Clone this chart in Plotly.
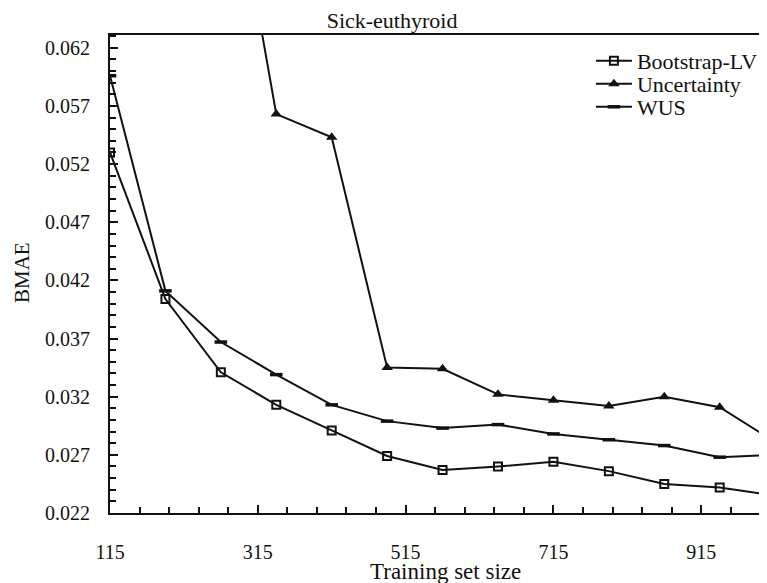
import plotly.graph_objects as go

train_size = [115, 190, 265, 340, 415, 490, 565, 640, 715, 790, 865, 940, 1015]
bootstrap_lv = [0.0530, 0.0404, 0.0341, 0.0313, 0.0291, 0.0269, 0.0257, 0.0260, 0.0264, 0.0256, 0.0245, 0.0242, 0.0235]
uncertainty = [0.0980, 0.0900, 0.0832, 0.0563, 0.0543, 0.0345, 0.0344, 0.0322, 0.0317, 0.0312, 0.0320, 0.0311, 0.0281]
wus = [0.0596, 0.0411, 0.0367, 0.0339, 0.0313, 0.0299, 0.0293, 0.0296, 0.0288, 0.0283, 0.0278, 0.0268, 0.0270]

y_ticks = [0.022, 0.027, 0.032, 0.037, 0.042, 0.047, 0.052, 0.057, 0.062]
x_ticks = [115, 315, 515, 715, 915]

FONT = "Liberation Serif"
BLACK = "#111111"

fig = go.Figure()
fig.add_trace(go.Scatter(
    x=train_size, y=bootstrap_lv, name="Bootstrap-LV", mode="lines+markers",
    line=dict(color=BLACK, width=2), legend="legend",
    marker=dict(symbol="square-open", size=8, color=BLACK, line=dict(width=2, color=BLACK)),
))
fig.add_trace(go.Scatter(
    x=train_size, y=uncertainty, name="Uncertainty", mode="lines+markers",
    line=dict(color=BLACK, width=2), legend="legend2",
    marker=dict(symbol="triangle-up", size=10, color=BLACK),
))
fig.add_trace(go.Scatter(
    x=train_size, y=wus, name="WUS", mode="lines+markers",
    line=dict(color=BLACK, width=2), legend="legend3",
    marker=dict(symbol="line-ew", size=9, color=BLACK, line=dict(width=3.5, color=BLACK)),
))

legend_common = dict(x=0.732, xanchor="left", yanchor="middle", bgcolor="rgba(0,0,0,0)",
                     font=dict(family=FONT, size=22, color=BLACK), itemwidth=36)

fig.update_layout(
    width=759, height=575,
    margin=dict(l=102, r=0, t=27, b=70),
    paper_bgcolor="white", plot_bgcolor="white",
    font=dict(family=FONT, size=20, color=BLACK),
    title=dict(text="Sick-euthyroid", xref="container", x=0.506, xanchor="center",
               yref="container", y=0.979, yanchor="middle",
               font=dict(family=FONT, size=22, color=BLACK)),
    showlegend=True,
    legend=dict(y=0.9456, **legend_common),
    legend2=dict(y=0.8975, **legend_common),
    legend3=dict(y=0.8494, **legend_common),
    xaxis=dict(
        range=[115, 1004], tickmode="array", tickvals=x_ticks,
        ticktext=[str(v) for v in x_ticks],
        ticks="inside", ticklen=8, tickwidth=1.5, tickcolor=BLACK,
        minor=dict(tickmode="linear", tick0=115, dtick=40, ticks="inside", ticklen=6,
                   tickwidth=1.5, tickcolor=BLACK, showgrid=False),
        showline=True, linecolor=BLACK, linewidth=2, mirror=True,
        showgrid=False, zeroline=False, ticklabelstandoff=20,
        tickfont=dict(family=FONT, size=20),
    ),
    yaxis=dict(
        range=[0.022, 0.0631], tickmode="array", tickvals=y_ticks,
        ticktext=[f"{v:.3f}" for v in y_ticks],
        ticks="inside", ticklen=8, tickwidth=1.5, tickcolor=BLACK,
        minor=dict(tickmode="linear", tick0=0.022, dtick=0.001, ticks="inside", ticklen=6,
                   tickwidth=1.5, tickcolor=BLACK, showgrid=False),
        showline=True, linecolor=BLACK, linewidth=2,
        showgrid=False, zeroline=False, ticklabelstandoff=14,
        tickfont=dict(family=FONT, size=20),
    ),
    annotations=[
        dict(text="Training set size", xref="paper", yref="paper", x=0.51, y=-0.1234,
             xanchor="center", yanchor="middle", showarrow=False,
             font=dict(family=FONT, size=23, color=BLACK)),
        dict(text="BMAE", xref="paper", yref="paper", x=-0.134, y=0.504, textangle=-90,
             xanchor="center", yanchor="middle", showarrow=False,
             font=dict(family=FONT, size=21, color=BLACK)),
    ],
)

fig.write_html("out.html")
